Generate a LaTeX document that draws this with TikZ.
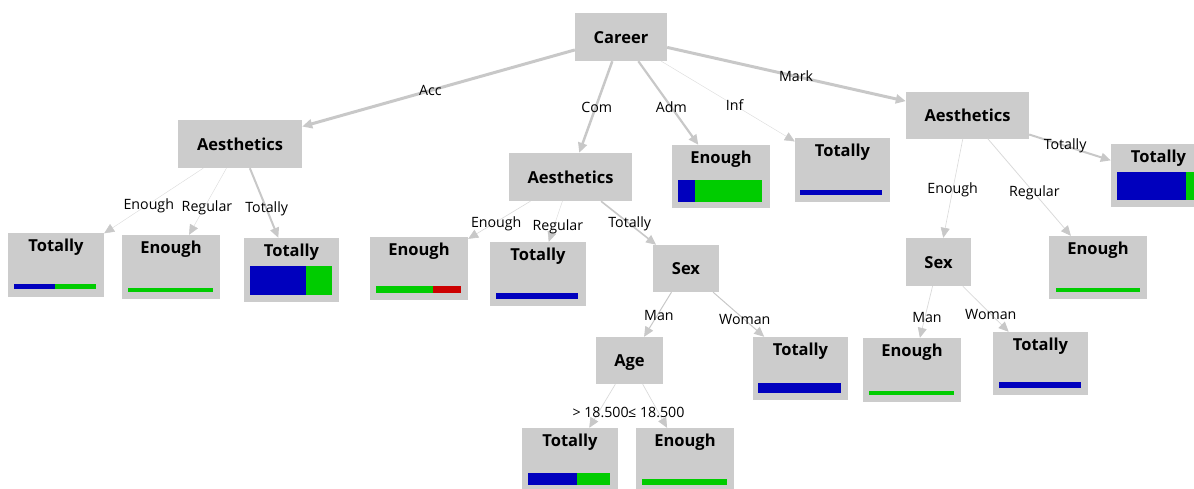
\documentclass[tikz,border=0pt]{standalone}
\usepackage{fontspec}
\setmainfont{Open Sans}
\usetikzlibrary{arrows.meta}
\definecolor{boxgray}{HTML}{CCCCCC}
\definecolor{edgegray}{HTML}{C8C8C8}
\definecolor{thingray}{HTML}{DADADA}
\definecolor{barblue}{HTML}{0000BE}
\definecolor{bargreen}{HTML}{00CC00}
\definecolor{barred}{HTML}{CC0000}
\tikzset{
  treebox/.style={fill=boxgray, draw=none, inner sep=0pt, text height=12pt, text depth=0pt,
    font=\fontsize{16.5}{18}\selectfont\bfseries},
  leaftitle/.style={anchor=base, inner sep=0pt, font=\fontsize{16.5}{18}\selectfont\bfseries},
  edge/.style={draw=edgegray, -{Triangle[length=10pt,width=9pt,fill=edgegray]}},
  thinedge/.style={draw=thingray, line width=0.5pt, -{Triangle[length=10pt,width=9pt,color=edgegray,fill=edgegray]}},
  lbl/.style={inner sep=0pt, text=black, font=\fontsize{14.2}{16}\selectfont},
}
\begin{document}
\begin{tikzpicture}[x=1pt,y=-1pt]
\useasboundingbox (0,0) rectangle (1194,488);
% inner nodes
\node[treebox, minimum width=92pt, minimum height=48pt] (career) at (621,37) {Career};
\node[treebox, minimum width=124pt, minimum height=48pt] (aesL) at (240,144) {Aesthetics};
\node[treebox, minimum width=123pt, minimum height=48pt] (aesC) at (570.5,177) {Aesthetics};
\node[treebox, minimum width=123pt, minimum height=47pt] (aesR) at (967.5,115) {Aesthetics};
\node[treebox, minimum width=66pt, minimum height=47pt] (sexC) at (686,268.5) {Sex};
\node[treebox, minimum width=67pt, minimum height=47pt] (age) at (629.5,360.5) {Age};
\node[treebox, minimum width=65pt, minimum height=48pt] (sexR) at (938.5,262) {Sex};
% leaves
\node[treebox, minimum width=98pt, minimum height=63pt] (enAdm) at (721,176.5) {};
\node[treebox, minimum width=95pt, minimum height=64pt] (toInf) at (842.5,170) {};
\node[treebox, minimum width=95pt, minimum height=63pt] (toR) at (1158.5,175.5) {};
\node[treebox, minimum width=96pt, minimum height=64pt] (l1) at (56,265) {};
\node[treebox, minimum width=98pt, minimum height=64pt] (l2) at (171,267) {};
\node[treebox, minimum width=95pt, minimum height=64pt] (l3) at (291.5,270) {};
\node[treebox, minimum width=98pt, minimum height=63pt] (c1) at (419,268.5) {};
\node[treebox, minimum width=96pt, minimum height=64pt] (c2) at (538,274) {};
\node[treebox, minimum width=96pt, minimum height=64pt] (a1) at (570,460) {};
\node[treebox, minimum width=98pt, minimum height=64pt] (a2) at (685,460) {};
\node[treebox, minimum width=95pt, minimum height=63pt] (w1) at (800.5,368.5) {};
\node[treebox, minimum width=98pt, minimum height=63pt] (r2) at (1098,267.5) {};
\node[treebox, minimum width=98pt, minimum height=64pt] (m2) at (912,370) {};
\node[treebox, minimum width=95pt, minimum height=63pt] (w2) at (1040.5,363.5) {};
% leaf titles
\foreach \n/\t in {enAdm/Enough, toInf/Totally, toR/Totally, l1/Totally, l2/Enough, l3/Totally,
  c1/Enough, c2/Totally, a1/Totally, a2/Enough, w1/Totally, r2/Enough, m2/Enough, w2/Totally}
  \node[leaftitle] (\n-title) at ([yshift=-19pt]\n.north) {\t};
% bars
\fill[barblue] (678,180) rectangle (695,202);
\fill[bargreen] (695,180) rectangle (762,202);
\fill[barblue] (800,190) rectangle (882,195);
\fill[barblue] (1117,172) rectangle (1186,200);
\fill[bargreen] (1186,172) rectangle (1200,200);
\fill[barblue] (14,284) rectangle (55,289);
\fill[bargreen] (55,284) rectangle (96,289);
\fill[bargreen] (128,288) rectangle (213,292);
\fill[barblue] (250,266) rectangle (306,295);
\fill[bargreen] (306,266) rectangle (332,295);
\fill[bargreen] (376,286) rectangle (433,293);
\fill[barred] (433,286) rectangle (461,293);
\fill[barblue] (496,293) rectangle (578,299);
\fill[barblue] (528,473) rectangle (577,485);
\fill[bargreen] (577,473) rectangle (610,485);
\fill[bargreen] (642,479) rectangle (727,485);
\fill[barblue] (758,383) rectangle (841,393);
\fill[bargreen] (1056,288) rectangle (1140,292);
\fill[bargreen] (869,391) rectangle (954,395);
\fill[barblue] (999,382) rectangle (1081,388);
% edges
\draw[edge, line width=3pt] (career) -- node[lbl, pos=0.53] {Acc} (aesL);
\draw[edge, line width=2.5pt] (career) -- node[lbl, pos=0.5, xshift=1pt] {Com} (aesC);
\draw[edge, line width=2.2pt] (career) -- node[lbl, pos=0.55] {Adm} (enAdm);
\draw[thinedge, line width=0.4pt] (career) -- node[lbl, pos=0.55] {Inf} (toInf);
\draw[edge, line width=3pt] (career) -- node[lbl, pos=0.54] {Mark} (aesR);
\draw[thinedge, line width=0.4pt] (aesL) -- node[lbl, pos=0.55, yshift=-2pt] {Enough} (l1);
\draw[thinedge, line width=0.4pt] (aesL) -- node[lbl, pos=0.6, xshift=3pt] {Regular} (l2);
\draw[edge, line width=2pt] (aesL) -- node[lbl, pos=0.59] {Totally} (l3);
\draw[thinedge, line width=0.6pt] (aesC) -- node[lbl, pos=0.55, yshift=-2pt] {Enough} (c1);
\draw[thinedge, line width=0.4pt] (aesC) -- node[lbl, pos=0.63, xshift=4pt] {Regular} (c2);
\draw[edge, line width=1.6pt] (aesC) -- node[lbl, pos=0.52] {Totally} (sexC);
\draw[edge, line width=1pt] (sexC) -- node[lbl, pos=0.53, xshift=2pt] {Man} (age);
\draw[edge, line width=1pt] (sexC) -- node[lbl, pos=0.62] {Woman} (w1);
\draw[thinedge, line width=0.7pt] (age) -- node[lbl, pos=0.64, xshift=2pt] {> 18.500} (a1);
\draw[thinedge, line width=0.7pt] (age) -- node[lbl, pos=0.64, xshift=-2pt] {≤ 18.500} (a2);
\draw[thinedge, line width=0.6pt] (aesR) -- node[lbl, pos=0.52] {Enough} (sexR);
\draw[thinedge, line width=0.8pt] (aesR) -- node[lbl, pos=0.56] {Regular} (r2);
\draw[edge, line width=2pt] (aesR) -- node[lbl, pos=0.44] {Totally} (toR);
\draw[thinedge, line width=0.7pt] (sexR) -- node[lbl, pos=0.6, xshift=2pt] {Man} (m2);
\draw[thinedge, line width=0.8pt] (sexR) -- node[lbl, pos=0.61] {Woman} (w2);
\end{tikzpicture}
\end{document}
